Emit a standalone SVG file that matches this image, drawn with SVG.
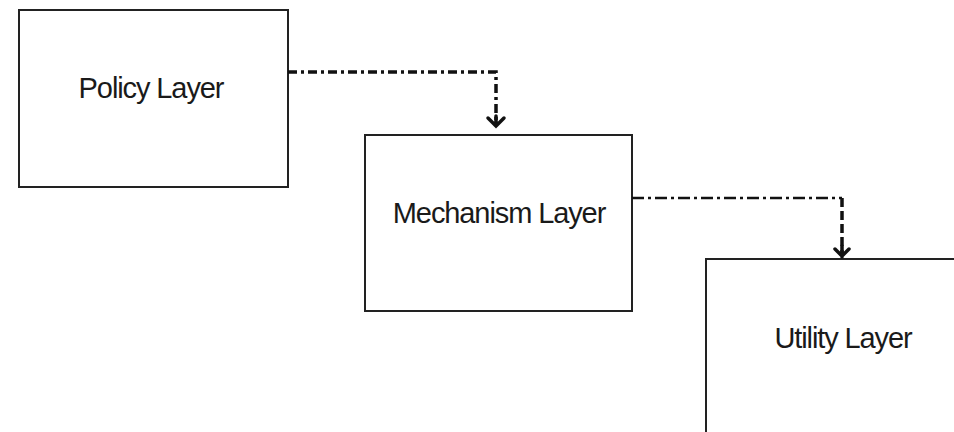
<svg xmlns="http://www.w3.org/2000/svg" width="954" height="432" viewBox="0 0 954 432">
<style>
.box{fill:#fff;stroke:#222;stroke-width:2}
.lbl{font-family:"Liberation Sans",Arial,sans-serif;font-size:29px;letter-spacing:-1.1px;fill:#1a1a1a;text-anchor:middle}
.c1{fill:none;stroke:#111;stroke-width:3.5;stroke-dasharray:9 4 3 4}
.c2h{fill:none;stroke:#111;stroke-width:2.5;stroke-dasharray:12 4 3 4}
.c2v{fill:none;stroke:#111;stroke-width:3.5;stroke-dasharray:9 4}
.ah{fill:none;stroke:#111;stroke-width:3.5;stroke-linecap:round}
</style>
<rect width="954" height="432" fill="#fff"/>
<g id="policy">
<rect class="box" x="19" y="10" width="269" height="177"/>
<text class="lbl" x="151" y="98">Policy Layer</text>
</g>
<g id="mechanism">
<rect class="box" x="365" y="135" width="267" height="176"/>
<text class="lbl" x="499" y="223">Mechanism Layer</text>
</g>
<g id="utility">
<rect class="box" x="706" y="259" width="260" height="190"/>
<text class="lbl" x="843" y="348">Utility Layer</text>
</g>
<g id="connectors">
<path class="c1" d="M288 72 H496 V124"/>
<path class="ah" d="M488 118 L496 126 L504 118 M496 116 V126"/>
<path class="c2h" d="M632 198 H842"/>
<path class="c2v" d="M842 198 V254"/>
<path class="ah" d="M835 249 L842 256 L849 249 M842 246 V257"/>
</g>
</svg>
